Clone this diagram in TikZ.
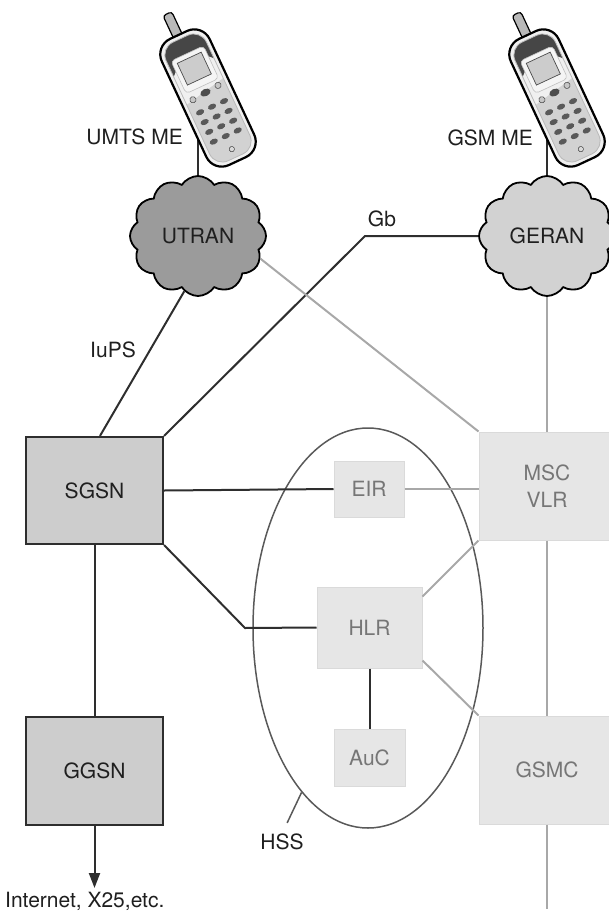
\documentclass[tikz,border=0pt]{standalone}
\usepackage{fontspec}
\setmainfont{TeX Gyre Heros}
\usetikzlibrary{shapes.symbols,shapes.geometric,arrows.meta}

\definecolor{linedark}{HTML}{2E2E2E}
\definecolor{linelight}{HTML}{A8A8A8}
\definecolor{boxdark}{HTML}{CDCDCD}
\definecolor{boxlight}{HTML}{E6E6E6}
\definecolor{boxlightedge}{HTML}{DADADA}
\definecolor{textlight}{HTML}{767676}
\definecolor{utranfill}{HTML}{9B9B9B}
\definecolor{geranfill}{HTML}{D2D2D2}

\tikzset{
  every node/.style={font=\fontsize{21}{27}\selectfont, text=black!88},
  corebox/.style={draw=linedark, line width=2.2pt, fill=boxdark,
    minimum width=137pt, minimum height=107pt, inner sep=0pt},
  regbox/.style={draw=boxlightedge, line width=1pt, fill=boxlight,
    text=textlight, inner sep=0pt, align=center},
  ran/.style={cloud, cloud puffs=12, cloud puff arc=115, draw=black,
    line width=1.8pt, minimum width=136pt, minimum height=120pt, inner sep=0pt},
  darkline/.style={draw=linedark, line width=2pt},
  lightline/.style={draw=linelight, line width=2pt},
  lbl/.style={inner sep=0pt},
  handset/.pic={
    % antenna
    \draw[line width=1.2pt, fill=gray!55, rounded corners=3pt] (-5,-48) rectangle (3,-78);
    % casing
    \draw[line width=2.2pt, fill=gray!12, rounded corners=17pt] (-22,-58) rectangle (22,58);
    \begin{scope}
      \clip[rounded corners=14pt] (-18.5,-54.5) rectangle (18.5,54.5);
      % dark upper cap
      \fill[gray!55!black] (-20,-60) -- (20,-60) -- (20,-26)
        .. controls (10,-40) and (-10,-40) .. (-20,-26) -- cycle;
      % keypad area
      \fill[gray!35] (-20,-2) -- (20,-10) -- (20,60) -- (-20,60) -- cycle;
    \end{scope}
    \draw[gray!55, line width=0.8pt, rounded corners=14pt] (-18.5,-54.5) rectangle (18.5,54.5);
    % display
    \draw[gray!50, fill=gray!8, line width=0.6pt, rounded corners=4pt] (-15,-41) rectangle (15,-11);
    \draw[gray!60!black, fill=gray!40, line width=0.7pt] (-11,-37) rectangle (11,-17);
    % control keys
    \draw[gray!50!black, fill=gray!45, line width=0.5pt] (-12,-4) circle (2.6);
    \draw[gray!50!black, fill=gray!45, line width=0.5pt] (12,-6) circle (2.6);
    \fill[gray!60!black] (0,-5) ellipse (4.5 and 3);
    % number keys
    \foreach \ky in {8,17,26,35} {
      \foreach \kx in {-11,0,11} {
        \fill[gray!70!black] (\kx,\ky) ellipse (3.6 and 2.3);
      }
    }
    % microphone
    \draw[gray!50!black, fill=gray!30, line width=0.5pt] (0,47) circle (2.2);
  },
}

\begin{document}
\begin{tikzpicture}[x=1pt, y=-1pt]
\useasboundingbox (0,0) rectangle (609,913);
\clip (0,0) rectangle (609,913);

% radio access networks
\node[ran, fill=utranfill] (utran) at (198,236) {UTRAN};
\node[ran, fill=geranfill] (geran) at (547,236) {GERAN};

% packet core
\node[corebox] (sgsn) at (94.5,490.5) {SGSN};
\node[corebox, minimum height=108pt] (ggsn) at (94.5,771) {GGSN};

% circuit core and registers
\node[regbox, minimum width=136pt, minimum height=108pt] (msc) at (547,486) {MSC\\VLR};
\node[regbox, minimum width=136pt, minimum height=108pt] (gsmc) at (547,770) {GSMC};
\node[regbox, minimum width=70pt, minimum height=56pt] (eir) at (369,489) {EIR};
\node[regbox, minimum width=105pt, minimum height=81pt] (hlr) at (369.5,627.5) {HLR};
\node[regbox, minimum width=71pt, minimum height=57pt] (auc) at (369.5,757.5) {AuC};

% home subscriber server
\node[ellipse, draw=black!65, line width=1.5pt, minimum width=230pt,
      minimum height=400pt, inner sep=0pt] (hss) at (368,628) {};
\node[lbl] (hsstag) at (282,842) {HSS};
\draw[draw=black!65, line width=1.5pt, shorten >=12pt] (hss.248) -- (hsstag.north);

% free ends and bends
\coordinate (umtsjack) at (198,130);
\coordinate (gsmjack) at (547,130);
\coordinate (gbknee) at (365,236);
\coordinate (hlrknee) at (245,628);
\coordinate (netend) at (94.5,888);
\coordinate (gsmcend) at (547,909);

% dark links
\draw[darkline] (umtsjack) -- (utran.north);
\draw[darkline] (gsmjack) -- (geran.north);
\draw[darkline] (utran.256) -- ([xshift=5.5pt]sgsn.north);
\draw[darkline] (sgsn.north east) -- (gbknee) -- (geran.west);
\draw[darkline] (sgsn.east) -- (eir.west);
\draw[darkline] (sgsn.south east) -- (hlrknee) -- (hlr.west);
\draw[darkline] (sgsn.south) -- (ggsn.north);
\draw[darkline] (hlr.south) -- (auc.north);
\draw[darkline, -{Triangle[length=15pt, width=11pt]}] (ggsn.south) -- (netend);

% light links
\draw[lightline] (utran.340) -- (msc.north west);
\draw[lightline] (geran.south) -- (msc.north);
\draw[lightline] (eir.east) -- (eir.east -| msc.west);
\draw[lightline] ([yshift=-10pt]hlr.north east) -- (msc.south west);
\draw[lightline] ([yshift=8pt]hlr.south east) -- (gsmc.north west);
\draw[lightline] (msc.south) -- (gsmc.north);
\draw[lightline] (gsmc.south) -- (gsmcend);

% labels
\node[lbl] (iups) at (113,350) {IuPS};
\node[lbl] (gb) at (382,219) {Gb};
\node[lbl, anchor=east] (umtsme) at (183,137) {UMTS ME};
\node[lbl, anchor=east] (gsmme) at (533,138) {GSM ME};
\node[lbl, anchor=west] (inet) at (5,901) {Internet, X25,etc.};

% handsets
\pic[rotate=25, scale=1.2] (umts) at (208,98) {handset};
\pic[rotate=25, scale=1.2] (gsm) at (557,98) {handset};
\end{tikzpicture}
\end{document}
